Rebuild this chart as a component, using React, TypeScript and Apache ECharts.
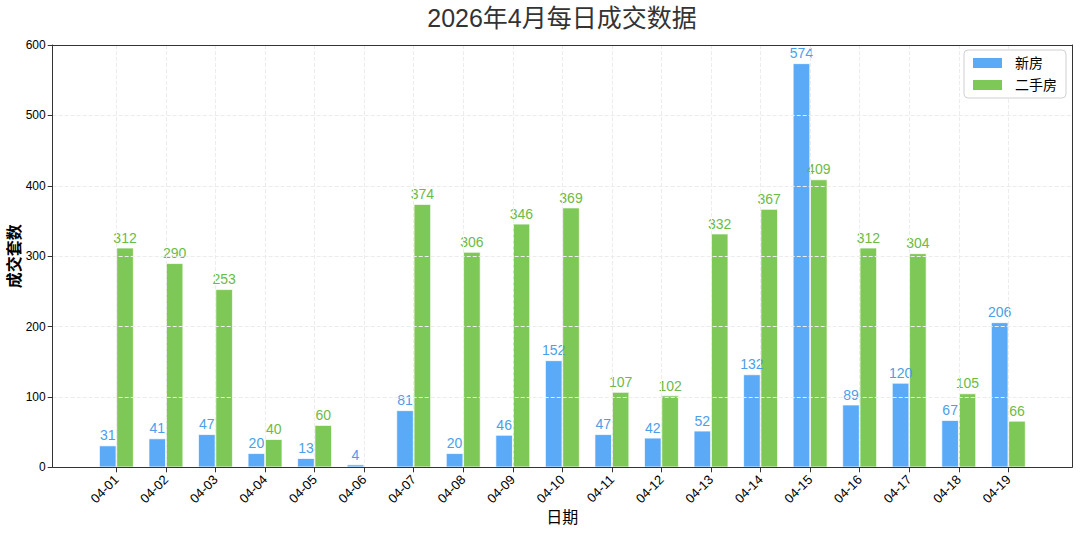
import React, { useEffect, useRef } from "react";
import * as echarts from "echarts";

const categories = [
  "04-01", "04-02", "04-03", "04-04", "04-05", "04-06", "04-07", "04-08", "04-09", "04-10",
  "04-11", "04-12", "04-13", "04-14", "04-15", "04-16", "04-17", "04-18", "04-19",
];
const newHouse = [31, 41, 47, 20, 13, 4, 81, 20, 46, 152, 47, 42, 52, 132, 574, 89, 120, 67, 206];
const secondHand = [312, 290, 253, 40, 60, null, 374, 306, 346, 369, 107, 102, 332, 367, 409, 312, 304, 105, 66];
const seriesNames = ["新房", "二手房"];
const titleText = "2026年4月每日成交数据";
const xName = "日期";
const yName = "成交套数";

const FONT = "'Liberation Sans', 'Noto Sans CJK SC', sans-serif";
const BLUE = "#5aaaf8";
const BLUE_LABEL = "#4c9ee9";
const GREEN = "#7ec857";
const GREEN_LABEL = "#6cbb45";
const AXIS = "#333333";

export default function App() {
  const ref = useRef<HTMLDivElement>(null);

  useEffect(() => {
    if (!ref.current) return;
    const chart = echarts.init(ref.current, undefined, { renderer: "svg" });
    const idx = categories.map((_, i) => i);
    const pad = 1.285;
    const xMin = -pad;
    const xMax = categories.length - 1 + pad;

    const makeSeries = (name: string, values: (number | null)[], color: string, labelColor: string) => ({
      name,
      type: "bar",
      xAxisIndex: 0,
      yAxisIndex: 0,
      data: values.map((v, i) => [i, v === null ? "-" : v]),
      barWidth: 17.3,
      barGap: "0%",
      itemStyle: { color, borderColor: "#ffffff", borderWidth: 0.7 },
      label: {
        show: true,
        position: "top",
        distance: 3,
        color: labelColor,
        fontSize: 14,
        fontFamily: FONT,
        formatter: (p: any) => String(p.value[1]),
      },
      emphasis: { disabled: true },
    });

    const frameAxisLine = { show: true, onZero: false, lineStyle: { color: AXIS, width: 1 } };

    chart.setOption({
      animation: false,
      backgroundColor: "#ffffff",
      textStyle: { fontFamily: FONT },
      title: {
        text: titleText,
        left: 562,
        top: 5,
        padding: 0,
        textAlign: "center",
        textStyle: { fontSize: 25, fontWeight: "normal", color: "#333333", fontFamily: FONT },
      },
      legend: {
        orient: "vertical",
        right: 14,
        top: 50,
        padding: [6, 9, 6, 9],
        itemWidth: 29,
        itemHeight: 10,
        itemGap: 8,
        icon: "rect",
        borderColor: "#d0d0d0",
        borderWidth: 1,
        borderRadius: 4,
        backgroundColor: "#ffffff",
        itemStyle: { borderWidth: 0 },
        textStyle: { fontSize: 14, color: "#000000", fontFamily: FONT, padding: [0, 0, 0, 8] },
        data: seriesNames,
      },
      grid: {
        left: 52.7,
        right: 8,
        top: 45,
        bottom: 67.7,
        containLabel: false,
        outerBoundsMode: "none",
        show: false,
      },
      xAxis: [
        {
          type: "value",
          min: xMin,
          max: xMax,
          name: xName,
          nameLocation: "middle",
          nameGap: 42,
          nameMoveOverlap: false,
          nameTextStyle: { fontSize: 16, color: "#000000", fontFamily: FONT },
          axisLine: frameAxisLine,
          axisTick: { show: true, inside: false, length: 5, customValues: idx, lineStyle: { color: AXIS } },
          axisLabel: {
            customValues: idx,
            rotate: 45,
            margin: 10,
            fontSize: 13,
            color: "#000000",
            fontFamily: FONT,
            formatter: (v: number) => categories[Math.round(v)] ?? "",
          },
          splitLine: { show: true, lineStyle: { color: "#ececec", type: "dashed", width: 1 } },
          z: 3,
        },
        {
          type: "value",
          position: "top",
          min: xMin,
          max: xMax,
          axisLine: frameAxisLine,
          axisTick: { show: false },
          axisLabel: { show: false },
          splitLine: { show: false },
          z: 3,
        },
      ],
      yAxis: [
        {
          type: "value",
          min: 0,
          max: 600,
          interval: 100,
          name: yName,
          nameLocation: "middle",
          nameGap: 30,
          nameRotate: 90,
          nameMoveOverlap: false,
          nameTextStyle: { fontSize: 16, fontWeight: "bold", color: "#000000", fontFamily: FONT },
          axisLine: frameAxisLine,
          axisTick: { show: true, inside: false, length: 5, lineStyle: { color: AXIS } },
          axisLabel: { margin: 7, fontSize: 12, color: "#000000", fontFamily: FONT },
          splitLine: { show: true, lineStyle: { color: "#ececec", type: "dashed", width: 1 } },
          z: 3,
        },
        {
          type: "value",
          position: "right",
          min: 0,
          max: 600,
          interval: 100,
          axisLine: frameAxisLine,
          axisTick: { show: false },
          axisLabel: { show: false },
          splitLine: { show: false },
          z: 3,
        },
      ],
      series: [
        makeSeries(seriesNames[0], newHouse, BLUE, BLUE_LABEL),
        makeSeries(seriesNames[1], secondHand, GREEN, GREEN_LABEL),
      ],
    });

    return () => chart.dispose();
  }, []);

  return (
    <div
      ref={ref}
      style={{ position: "absolute", left: 0, top: 0, width: 1080, height: 535 }}
    />
  );
}
